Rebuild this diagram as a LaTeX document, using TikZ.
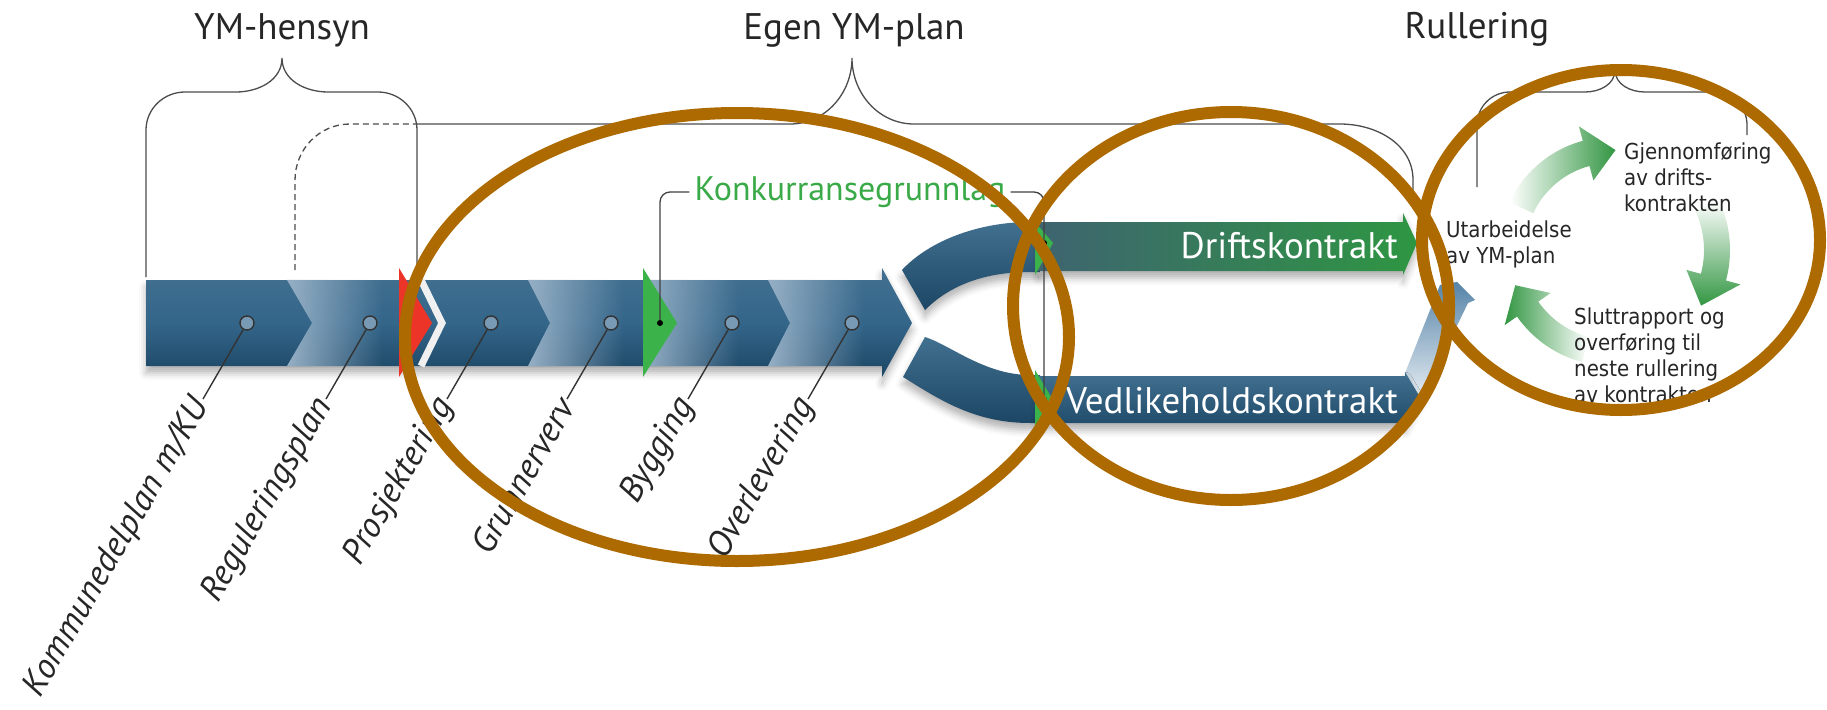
\documentclass[tikz,border=0pt]{standalone}
\usepackage{fontspec}
\setmainfont{PT Sans}
\newfontfamily\cyclefont{DejaVu Sans Condensed}
\usepackage{xcolor}
\usepackage{tikz}
\usetikzlibrary{
    positioning,
    calc,
    fadings,
    shadows.blur
}

\definecolor{barTop}{RGB}{66,112,144}
\definecolor{barMid}{RGB}{52,102,138}
\definecolor{barBot}{RGB}{28,70,100}
\definecolor{lightseg}{RGB}{150,176,198}
\definecolor{driftL}{RGB}{62,100,112}
\definecolor{driftR}{RGB}{46,150,66}
\definecolor{markgreen}{RGB}{60,178,74}
\definecolor{konkgreen}{RGB}{58,170,72}
\definecolor{cgreen}{RGB}{50,150,66}
\definecolor{redmark}{RGB}{236,52,40}
\definecolor{fadeblue}{RGB}{86,132,168}
\definecolor{ring}{RGB}{173,106,0}

\tikzfading[name=faderight, left color=transparent!0, right color=transparent!100]

\tikzset{
    % overskrifter over klammene
    heading/.style={font=\fontsize{37}{40}\selectfont, text=black!85, anchor=base, inner sep=0pt},
    brace/.style={draw=black!70, line width=1.3pt},
    % stolpen med fasene
    barshadow/.style={blur shadow={shadow xshift=0pt, shadow yshift=-7pt, shadow blur radius=7pt, shadow opacity=30}},
    knob/.style={circle, draw=black!80, fill=lightseg!70!barMid, line width=1.4pt, minimum size=14pt, inner sep=0pt},
    leader/.style={draw=black!80, line width=1.4pt},
    phase/.style={font=\fontsize{35}{38}\selectfont\itshape, text=black!85, rotate=60, anchor=east, inner sep=2pt},
    bartext/.style={font=\fontsize{37}{40}\selectfont, text=white, anchor=base east, inner sep=0pt},
    konk/.style={font=\fontsize{34}{36}\selectfont, text=konkgreen, inner sep=5pt},
    bracket/.style={draw=black!75, line width=1.3pt, rounded corners=10pt},
    dot/.style={circle, fill=black, minimum size=6pt, inner sep=0pt},
    % syklusen
    cycletext/.style={font=\cyclefont\fontsize{22}{26}\selectfont, align=left, anchor=west, text=black!85, inner sep=0pt},
    ringline/.style={draw=ring, line width=12pt}
}

\begin{document}
\begin{tikzpicture}[x=1pt, y=-1pt]
    \useasboundingbox (0,0) rectangle (1827,709);

    % Klammer
    \draw[brace] (146,277) -- (146,130) to[out=90,in=180] (185,92) -- (236,92)
        to[out=0,in=-90] (282,58) to[out=-90,in=180] (328,92) -- (378,92)
        to[out=0,in=90] (417,130) -- (417,277);
    \draw[brace, dashed, dash pattern=on 6pt off 4pt] (295,270) -- (295,180) to[out=90,in=180] (350,124) -- (417,124);
    \draw[brace] (417,124) -- (790,124) to[out=0,in=-90] (852,58) to[out=-90,in=180] (914,124)
        -- (1340,124) to[out=0,in=90] (1413,180) -- (1413,190);
    \draw[brace] (1477,187) -- (1477,125) to[out=90,in=180] (1510,92) -- (1585,92)
        to[out=0,in=-90] (1615,70) to[out=-90,in=180] (1645,92) -- (1715,92)
        to[out=0,in=90] (1747,125) -- (1747,135);

    % Hovedpil
    \path[barshadow, top color=barTop, bottom color=barBot, middle color=barMid]
        (146,280) -- (882,280) -- (882,268) -- (912,323) -- (882,377) -- (882,366) -- (146,366) -- cycle;
    \foreach \xt/\xm in {287/312, 528/550, 643/677, 768/790}{
        \fill[lightseg, path fading=faderight] (\xt,280) -- (\xm,323) -- (\xt,366)
            -- (\xt+95,366) -- (\xt+95,280) -- cycle;
    }
    \draw[white!88!gray, line width=7pt] (421,280) -- (442,323) -- (421,366);
    \fill[redmark] (399,268) -- (432,323) -- (399,377) -- cycle;
    \fill[markgreen] (643,268) -- (677,323) -- (643,377) -- cycle;

    % Faser
    \foreach \x/\n/\t in {247/1/{Kommunedelplan m/KU}, 370/2/Reguleringsplan, 491/3/Prosjektering,
                          611/4/Grunnerverv, 732/5/Bygging, 852/6/Overlevering}{
        \node[knob] (c\n) at (\x,323) {};
        \node[phase] (l\n) at (\x-44,399) {\t};
        \draw[leader] (c\n.240) -- (l\n.east);
    }

    % Forgreining
    \path[barshadow, top color=barTop, bottom color=barBot]
        (902,270) .. controls (930,240) and (980,222) .. (1030,222) -- (1040,222) -- (1040,272)
        -- (1030,272) .. controls (985,272) and (950,285) .. (925,310) -- cycle;
    \path[barshadow, top color=barTop, bottom color=barBot]
        (925,337) .. controls (950,345) and (985,375) .. (1030,375) -- (1040,375) -- (1040,423)
        -- (1030,423) .. controls (975,423) and (940,400) .. (903,377) -- cycle;
    \shade[top color=fadeblue, bottom color=white!85!fadeblue]
        (1405,373) -- (1440,285) -- (1457,282) -- (1475,300) -- (1468,303) -- (1422,398) -- cycle;
    \path[barshadow, left color=driftL, right color=driftR]
        (1038,222) -- (1403,222) -- (1403,213) -- (1417,243) -- (1403,275) -- (1403,271) -- (1038,271) -- cycle;
    \path[barshadow, top color=barTop, bottom color=barBot!80!barMid]
        (1038,376) -- (1405,376) -- (1405,372) -- (1420,397) -- (1405,425) -- (1405,423) -- (1038,423) -- cycle;
    \fill[markgreen] (1035,222) -- (1053,243) -- (1035,275) -- cycle;
    \fill[markgreen] (1035,370) -- (1053,400) -- (1035,430) -- cycle;
    \node[bartext] (drift) at (1398,258) {Driftskontrakt};
    \node[bartext] (vedl) at (1398,413) {Vedlikeholdskontrakt};

    % Konkurransegrunnlag
    \node[konk] (konk) at (850,192) {Konkurransegrunnlag};
    \node[dot] (kd1) at (660,323) {};
    \node[dot] (kd2) at (1044,243) {};
    \node[dot] (kd3) at (1044,400) {};
    \draw[bracket] (konk.west) -| (kd1);
    \draw[bracket] (konk.east) -| (kd3);

    % Rullering
    \shade[shift={(1612,250)}, left color=white, right color=cgreen]
        (205:113) arc[start angle=205, end angle=255, radius=113] -- (255:128) -- (272:100)
        -- (255:72) -- (255:87) arc[start angle=255, end angle=205, radius=87] -- cycle;
    \shade[shift={(1612,250)}, top color=white, bottom color=cgreen]
        (-25:118) arc[start angle=-25, end angle=15, radius=118] -- (15:133) -- (32:105)
        -- (15:77) -- (15:92) arc[start angle=15, end angle=-25, radius=92] -- cycle;
    \shade[shift={(1612,250)}, left color=cgreen, right color=white]
        (105:116) arc[start angle=105, end angle=145, radius=116] -- (145:131) -- (160:103)
        -- (145:75) -- (145:90) arc[start angle=145, end angle=105, radius=90] -- cycle;
    \node[cycletext] (utarb) at (1446,244) {Utarbeidelse\\av YM-plan};
    \node[cycletext] (gjen) at (1624,177) {Gjennomføring\\av drifts-\\kontrakten};
    \node[cycletext] (slutt) at (1574,355) {Sluttrapport og\\overføring til\\neste rullering\\av kontrakten};

    % Overskrifter
    \node[heading] (ymh) at (282,40) {YM-hensyn};
    \node[heading] (egen) at (854,40) {Egen YM-plan};
    \node[heading] (rull) at (1477,38) {Rullering};

    % Ringer
    \draw[ringline] (737,337) ellipse [x radius=332, y radius=224];
    \draw[ringline] (1231,306) ellipse [x radius=218, y radius=194];
    \draw[ringline] (1621,240) ellipse [x radius=199, y radius=170];
\end{tikzpicture}
\end{document}
